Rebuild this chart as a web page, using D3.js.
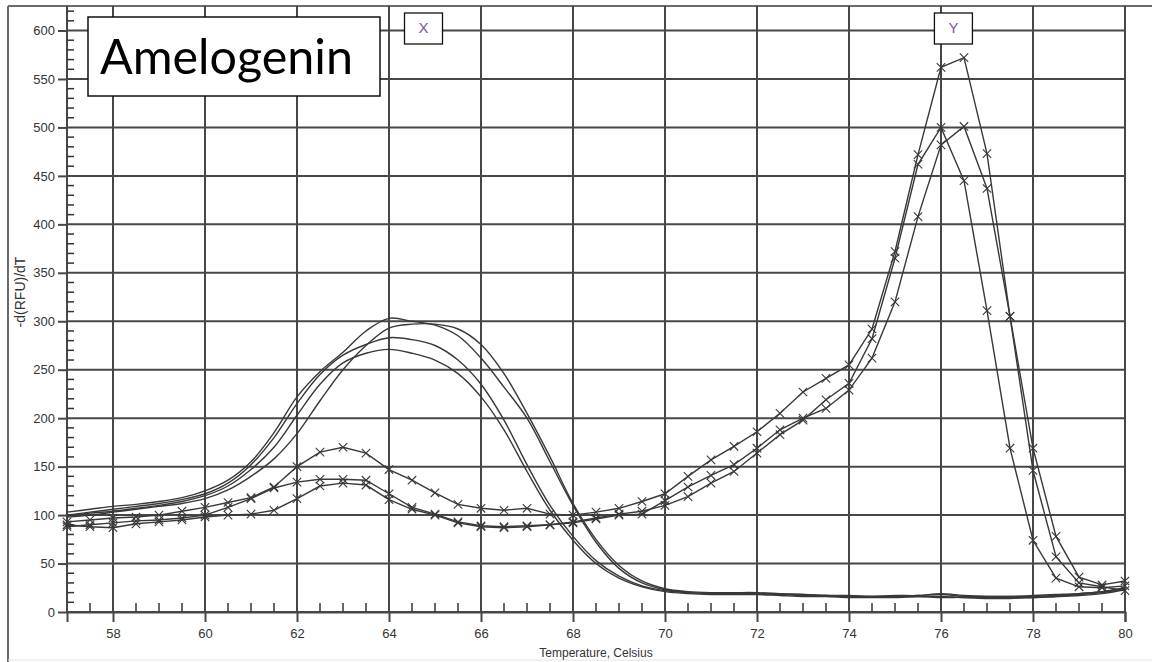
<!DOCTYPE html>
<html>
<head>
<meta charset="utf-8">
<script src="https://cdn.jsdelivr.net/npm/d3@7"></script>
<style>
  html, body { margin: 0; padding: 0; background: #fff; }
  svg { display: block; }
</style>
</head>
<body>
<svg id="chart" width="1152" height="662"></svg>
<script>
// ---------- data ----------
const temps = [57,57.5,58,58.5,59,59.5,60,60.5,61,61.5,62,62.5,63,63.5,64,64.5,65,65.5,66,66.5,67,67.5,68,68.5,69,69.5,70,70.5,71,71.5,72,72.5,73,73.5,74,74.5,75,75.5,76,76.5,77,77.5,78,78.5,79,79.5,80];

// curves drawn with "x" markers
const markedA = [93,95,97,98,100,104,108,113,118,129,150,165,170,164,147,136,123,111,107,105,107,101,100,103,107,114,122,140,157,171,186,205,227,241,255,292,372,472,562,572,473,305,169,78,36,28,32];
const markedB = [88,90,92,94,95,97,100,108,117,128,134,137,137,136,122,108,101,93,89,88,89,90,93,97,101,104,110,119,133,145,164,183,198,219,236,282,365,462,500,445,311,169,74,35,26,25,27];
const markedC = [90,88,87,91,93,95,98,100,101,105,117,130,133,131,116,106,100,92,88,87,88,90,92,96,100,101,115,129,141,152,169,188,200,210,229,262,320,408,482,501,437,305,146,57,30,26,22];

// smooth curves without markers
const smooth1 = [103,106,109,111,114,118,125,136,155,185,222,248,268,290,303,300,296,285,262,232,200,155,110,72,45,30,23,20,19,19,19,18,18,17,16,16,16,17,18,16,16,16,17,18,19,21,25];
const smooth2 = [98,100,103,106,109,112,117,126,140,158,184,218,250,275,293,297,297,292,276,246,205,160,112,75,48,32,24,21,20,20,20,19,18,17,17,16,16,16,15,15,14,14,15,16,18,20,24];
const smooth3 = [100,103,106,109,112,116,122,133,152,180,215,245,265,276,283,281,275,260,235,198,152,110,78,53,37,27,22,20,19,19,19,18,17,17,16,16,17,17,19,17,16,16,16,17,19,21,24];
const smooth4 = [99,102,104,107,110,114,120,130,147,170,203,235,257,267,271,267,260,246,222,188,145,105,74,50,35,26,21,19,18,18,18,17,16,16,15,15,15,16,16,15,15,15,15,16,17,19,23];

const xTickValues = [58,60,62,64,66,68,70,72,74,76,78,80];
const xTickLabels = ["58","60","62","64","66","68","70","72","74","76","78","80"];
const yTickValues = [0,50,100,150,200,250,300,350,400,450,500,550,600];
const yTickLabels = ["0","50","100","150","200","250","300","350","400","450","500","550","600"];

const titleText = "Amelogenin";
const peakLabels = [{label: "X", t: 64.75}, {label: "Y", t: 76.27}];
const xAxisTitle = "Temperature, Celsius";
const yAxisTitle = "-d(RFU)/dT";

// ---------- layout ----------
const L = 67, R = 1125, T = 6, B = 612;
const x = d3.scaleLinear().domain([57, 80]).range([L, R]);
const y = d3.scaleLinear().domain([0, 625.3]).range([B, T]);

const svg = d3.select("#chart");
const gridColor = "#474747";

// outer frame
svg.append("line").attr("x1", 8).attr("x2", 8).attr("y1", T).attr("y2", 662)
  .attr("stroke", "#6a6a6a").attr("stroke-width", 2);
svg.append("line").attr("x1", 8).attr("x2", 1152).attr("y1", T).attr("y2", T)
  .attr("stroke", "#6a6a6a").attr("stroke-width", 2);
svg.append("line").attr("x1", 8).attr("x2", 1152).attr("y1", 660).attr("y2", 660)
  .attr("stroke", "#e4e4e4").attr("stroke-width", 1);

// grid
const grid = svg.append("g");
grid.selectAll(".hg").data(yTickValues).join("line")
  .attr("x1", L).attr("x2", R).attr("y1", d => y(d)).attr("y2", d => y(d))
  .attr("stroke", gridColor).attr("stroke-width", 2);
grid.selectAll(".vg").data(xTickValues).join("line")
  .attr("x1", d => x(d)).attr("x2", d => x(d)).attr("y1", T).attr("y2", B)
  .attr("stroke", gridColor).attr("stroke-width", 2);
// left border
grid.append("line").attr("x1", L).attr("x2", L).attr("y1", T).attr("y2", B)
  .attr("stroke", gridColor).attr("stroke-width", 2);

// minor ticks
const yMinor = d3.range(10, 630, 10).filter(v => v % 50 !== 0);
grid.selectAll(".ym").data(yMinor).join("line")
  .attr("x1", L).attr("x2", L + 7).attr("y1", d => y(d)).attr("y2", d => y(d))
  .attr("stroke", "#333").attr("stroke-width", 1.5);
const xMinor = d3.range(57.5, 80, 0.5).filter(v => Math.abs(v % 2) > 1e-6);
grid.selectAll(".xm").data(xMinor).join("line")
  .attr("x1", d => x(d)).attr("x2", d => x(d)).attr("y1", B).attr("y2", B - 9)
  .attr("stroke", "#333").attr("stroke-width", 1.5);

// axes
const yAxis = d3.axisLeft(y).tickValues(yTickValues)
  .tickFormat((d, i) => yTickLabels[i]).tickSize(9).tickPadding(3);
const gy = svg.append("g").attr("transform", `translate(${L},0)`).call(yAxis);
gy.select(".domain").remove();
gy.selectAll(".tick line").attr("stroke", gridColor).attr("stroke-width", 2);
gy.selectAll(".tick text").attr("fill", "#333")
  .style("font-family", "'Liberation Sans', Arial, sans-serif").style("font-size", "13px");

const xAxis = d3.axisBottom(x).tickValues(xTickValues)
  .tickFormat((d, i) => xTickLabels[i]).tickSize(10).tickPadding(7);
const gx = svg.append("g").attr("transform", `translate(0,${B})`).call(xAxis);
gx.select(".domain").attr("stroke", gridColor).attr("stroke-width", 2);
gx.selectAll(".tick line").attr("stroke", gridColor).attr("stroke-width", 2);
gx.selectAll(".tick text").attr("fill", "#333")
  .style("font-family", "'Liberation Sans', Arial, sans-serif").style("font-size", "13px");

// axis titles
svg.append("text").attr("x", (L + R) / 2).attr("y", 657).attr("text-anchor", "middle")
  .attr("fill", "#333").style("font-family", "'Liberation Sans', Arial, sans-serif")
  .style("font-size", "12px").text(xAxisTitle);
svg.append("text").attr("transform", "translate(25,292) rotate(-90)").attr("text-anchor", "middle")
  .attr("fill", "#333").style("font-family", "'Liberation Sans', Arial, sans-serif")
  .style("font-size", "14px").text(yAxisTitle);

// curves
const lineColor = "#383838";
const smoothLine = d3.line().x((d, i) => x(temps[i])).y(d => y(d)).curve(d3.curveCatmullRom.alpha(0.5));
const straightLine = d3.line().x((d, i) => x(temps[i])).y(d => y(d));

const curves = svg.append("g");
[smooth1, smooth2, smooth3, smooth4].forEach(s => {
  curves.append("path").attr("d", smoothLine(s)).attr("fill", "none")
    .attr("stroke", lineColor).attr("stroke-width", 1.4);
});
const sym = d3.symbol().type(d3.symbolX).size(48);
[markedA, markedB, markedC].forEach(s => {
  curves.append("path").attr("d", straightLine(s)).attr("fill", "none")
    .attr("stroke", lineColor).attr("stroke-width", 1.4);
  curves.append("g").selectAll("path").data(s).join("path")
    .attr("transform", (d, i) => `translate(${x(temps[i])},${y(d)})`)
    .attr("d", sym).attr("fill", "none").attr("stroke", lineColor).attr("stroke-width", 1.1);
});

// title box
const tb = svg.append("g");
tb.append("rect").attr("x", 88).attr("y", 17).attr("width", 292).attr("height", 79)
  .attr("fill", "#fff").attr("stroke", "#111").attr("stroke-width", 1.5);
const tt = tb.append("text").attr("x", 100).attr("y", 74)
  .style("font-family", "Lato, 'Open Sans', sans-serif").style("font-size", "48px")
  .attr("fill", "#000").text(titleText);
const w = tt.node().getComputedTextLength();
if (w > 0) tt.style("font-size", (48 * 253 / w).toFixed(2) + "px");

// peak labels
const pl = svg.append("g").selectAll("g").data(peakLabels).join("g")
  .attr("transform", d => `translate(${x(d.t)},0)`);
pl.append("rect").attr("x", -19).attr("y", 13).attr("width", 38).attr("height", 31)
  .attr("fill", "#fff").attr("stroke", "#111").attr("stroke-width", 1.3);
pl.append("text").attr("x", 0).attr("y", 33).attr("text-anchor", "middle")
  .attr("fill", "#7a55b0").style("font-family", "'Liberation Sans', Arial, sans-serif")
  .style("font-size", "15px").text(d => d.label);
</script>
</body>
</html>
